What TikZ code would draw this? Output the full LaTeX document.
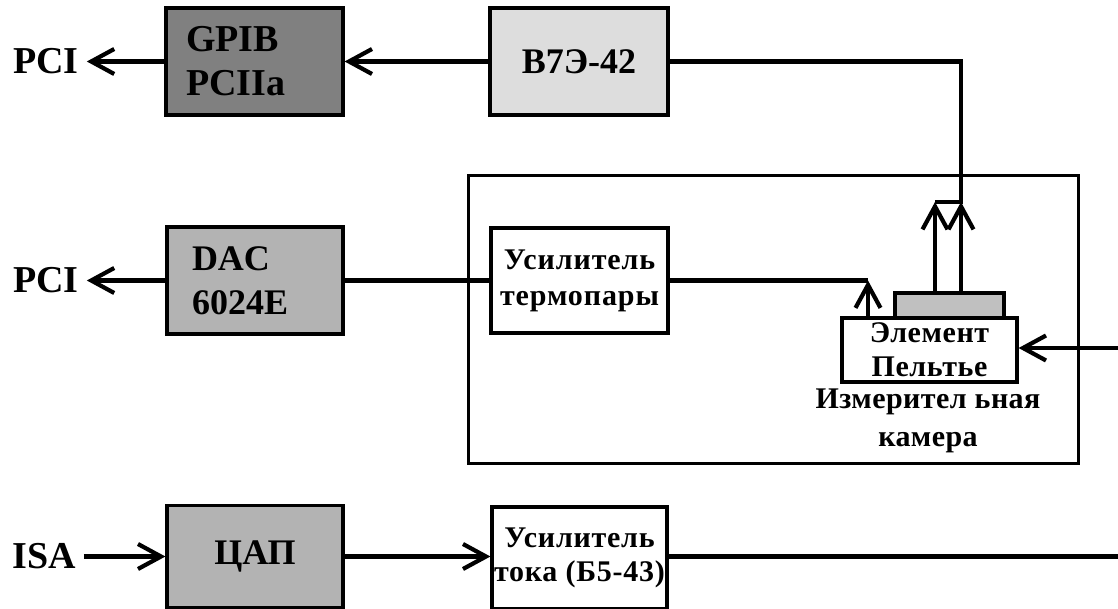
\documentclass[tikz,border=0pt]{standalone}
\usepackage{fontspec}
\setmainfont{Liberation Serif}
\usetikzlibrary{positioning, arrows.meta}
\definecolor{darkgrey}{HTML}{808080}
\definecolor{lightgrey}{HTML}{DDDDDD}
\definecolor{midgrey}{HTML}{B3B3B3}
\definecolor{plategrey}{HTML}{C0C0C0}

\begin{document}
\begin{tikzpicture}[x=0.5pt, y=-0.5pt, line width=2.1pt,
    box/.style={draw, line width=1.6pt, inner sep=0pt, align=center, font=\bfseries\fontsize{18}{22}\selectfont},
    smallbox/.style={box, font=\bfseries\fontsize{15}{18}\selectfont\addfontfeature{LetterSpace=3}},
    lbl/.style={inner xsep=3pt, inner ysep=0pt, font=\bfseries\fontsize{19}{22}\selectfont},
    arr/.style={-{Straight Barb[length=11.5pt, width=12.5pt]}}]
    \useasboundingbox (0,0) rectangle (1118,609);

    \node[draw, line width=1.5pt, minimum width=305pt, minimum height=143.5pt] (cam) at (773,319.5) {};

    \node[box, fill=darkgrey, minimum height=53.5pt, text width=68.5pt, inner xsep=10pt, align=left,
          font=\bfseries\fontsize{19}{22}\selectfont] (gpib) at (254.5,61.5) {GPIB\\PCIIa};
    \node[box, fill=lightgrey, minimum width=89pt, minimum height=53.5pt] (b7) at (579,61.5) {В7Э-42};
    \node[lbl] (pci1) at (46,61.5) {PCI};

    \node[box, fill=midgrey, minimum height=53.5pt, text width=63pt, inner xsep=12.5pt, align=left] (dac) at (255,280.5) {DAC\\6024E};
    \node[lbl] (pci2) at (46,280.5) {PCI};
    \node[smallbox, minimum width=88.5pt, minimum height=52.5pt] (amp1) at (579.5,280.5) {Усилитель\\термопары};

    \node[draw, line width=1.6pt, fill=plategrey, minimum width=54.5pt, minimum height=13pt, inner sep=0pt] (plate) at (949.5,306) {};
    \node[smallbox, fill=white, minimum width=87.5pt, minimum height=32pt,
          font=\bfseries\fontsize{15}{17}\selectfont\addfontfeature{LetterSpace=2}] (elem) at (929.5,350) {Элемент\\Пельтье};
    \node[align=center, inner sep=0pt, font=\bfseries\fontsize{15}{19}\selectfont\addfontfeature{LetterSpace=1.5}] (camlbl) at (928,421) {Измерител ьная\\камера};

    \node[box, fill=midgrey, minimum width=88pt, minimum height=51pt] (dacb) at (255,556.5) {ЦАП};
    \node[smallbox, minimum width=87.5pt, minimum height=51pt,
          font=\bfseries\fontsize{15}{17}\selectfont\addfontfeature{LetterSpace=2.5}] (amp2) at (579.5,558) {Усилитель\\тока (Б5-43)};
    \node[lbl] (isa) at (44,556.5) {ISA};

    \coordinate (t1) at (935,202);
    \coordinate (t2) at (961,202);
    \coordinate (th) at (868,280.5);
    \coordinate (e1) at (1125,348);
    \coordinate (e2) at (1125,556.5);

    \draw[arr] (b7) -- (gpib);
    \draw[arr] (gpib) -- (pci1);
    \draw (b7.east) -| (t2) -- (t1);
    \draw[arr] (plate.north -| t1) -- (t1);
    \draw[arr] (plate.north -| t2) -- (t2);
    \draw[arr] (dac) -- (pci2);
    \draw (dac) -- (amp1);
    \draw (amp1.east) -- (th);
    \draw[arr] (elem.north -| th) -- (th);
    \draw[arr] (e1) -- (e1 -| elem.east);
    \draw[arr] (isa) -- (dacb.west |- isa);
    \draw[arr] (dacb) -- (amp2.west |- dacb);
    \draw (amp2.east |- e2) -- (e2);
\end{tikzpicture}
\end{document}
